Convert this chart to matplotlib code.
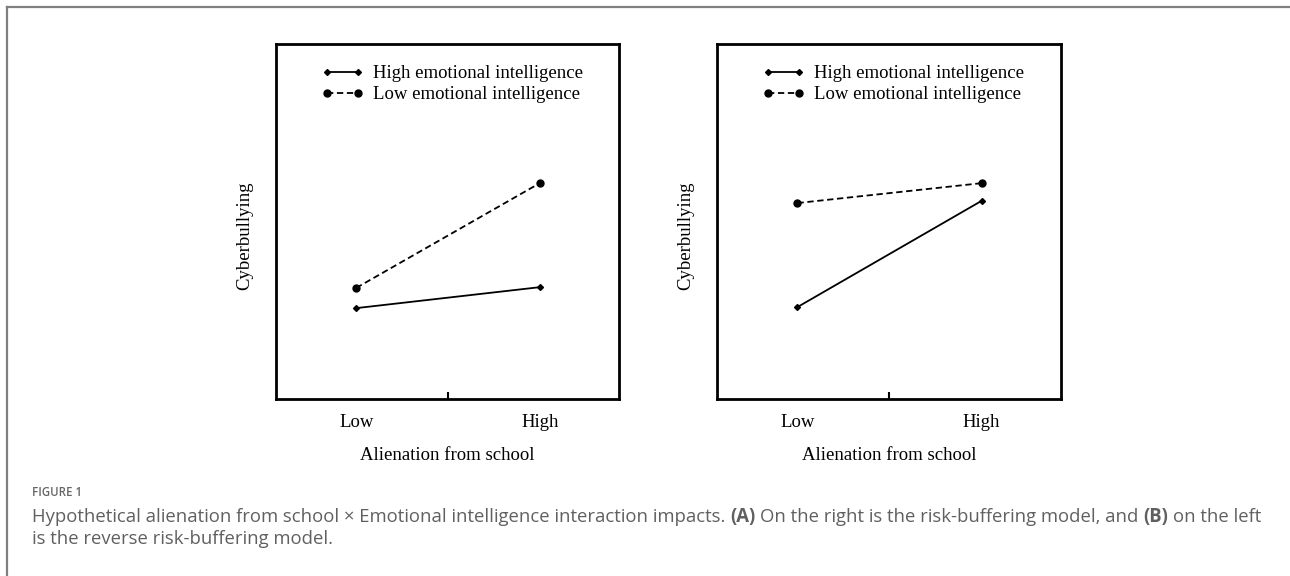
import matplotlib
matplotlib.use("Agg")
import matplotlib.pyplot as plt
from matplotlib.lines import Line2D
from matplotlib.legend_handler import HandlerLine2D

# --------------------------------------------------------------------------
# Data (arbitrary units; y axis runs 0..10)
# --------------------------------------------------------------------------
levels = ["Low", "High"]
level_pos = [1, 2]

left_high_ei = [2.56, 3.15]
left_low_ei = [3.13, 6.08]
right_high_ei = [2.59, 5.58]
right_low_ei = [5.52, 6.08]

series_labels = ["High emotional intelligence", "Low emotional intelligence"]
x_title = "Alienation from school"
y_title = "Cyberbullying"

caption_head = "FIGURE 1"
caption_line1 = [
    ("Hypothetical alienation from school \u00d7 Emotional intelligence interaction impacts.", "normal"),
    ("(A)", "bold"),
    ("On the right is the risk-buffering model, and", "normal"),
    ("(B)", "bold"),
    ("on the left", "normal"),
]
caption_line2 = "is the reverse risk-buffering model."

SERIF = "Liberation Serif"
SANS = "Open Sans"
FS = 13.5
CAP_FS = 13.35

fig = plt.figure(figsize=(12.9, 5.76), dpi=100)
W, H = 1290, 576


def panel(rect, high, low):
    ax = fig.add_axes(rect)
    ax.plot(level_pos, high, color="black", lw=1.3, marker="D", ms=3,
            label=series_labels[0])
    ax.plot(level_pos, low, color="black", lw=1.3, ls=(0, (3.5, 2)),
            marker="o", ms=5, label=series_labels[1])
    ax.set_xlim(0.5626, 2.432)
    ax.set_ylim(0, 10)
    ax.set_yticks([])
    ax.set_xticks(level_pos)
    ax.set_xticklabels(levels, fontfamily=SERIF, fontsize=FS)
    ax.set_xticks([1.5], minor=True)
    ax.tick_params(axis="x", which="major", length=0, pad=11)
    ax.tick_params(axis="x", which="minor", direction="in", length=5, width=1.5)
    for s in ax.spines.values():
        s.set_linewidth(2)
    ax.set_xlabel(x_title, fontfamily=SERIF, fontsize=FS, labelpad=11)
    ax.text(-0.09, 0.46, y_title, rotation=90, ha="center", va="center",
            fontfamily=SERIF, fontsize=FS, transform=ax.transAxes)
    ax.legend(loc="upper left", bbox_to_anchor=(0.148, 0.94), frameon=False,
              prop={"family": SERIF, "size": FS},
              handler_map={Line2D: HandlerLine2D(marker_pad=0, numpoints=2)},
              handlelength=1.65, handletextpad=0.8, labelspacing=0.2,
              borderpad=0, borderaxespad=0)
    return ax


panel([276 / W, 1 - 399 / H, 343 / W, 355 / H], left_high_ei, left_low_ei)
panel([717 / W, 1 - 399 / H, 344 / W, 355 / H], right_high_ei, right_low_ei)

# outer frame (top and left edges only)
fig.add_artist(Line2D([7 / W, 7 / W], [0, 1 - 7 / H], color="#808080", lw=1.6,
                      transform=fig.transFigure))
fig.add_artist(Line2D([7 / W, 1], [1 - 7 / H, 1 - 7 / H], color="#808080", lw=1.6,
                      transform=fig.transFigure))

# caption
grey = "#606060"
fig.text(32 / W, 1 - 493 / H, caption_head, fontfamily=SANS, fontsize=8.3,
         fontweight="semibold", color="#666666", va="center")

renderer = fig.canvas.get_renderer()
probe = fig.text(0, 0, "x x", fontfamily=SANS, fontsize=CAP_FS)
w_sp = probe.get_window_extent(renderer).width
probe.set_text("xx")
w_sp -= probe.get_window_extent(renderer).width
probe.remove()

x = 32
for txt, weight in caption_line1:
    t = fig.text(x / W, 1 - 517 / H, txt, fontfamily=SANS, fontsize=CAP_FS,
                 fontweight=weight, color=grey, va="center")
    x += t.get_window_extent(renderer).width + w_sp
fig.text(32 / W, 1 - 539 / H, caption_line2, fontfamily=SANS, fontsize=CAP_FS,
         color=grey, va="center")

fig.savefig("out.png", dpi=100, facecolor="white")
